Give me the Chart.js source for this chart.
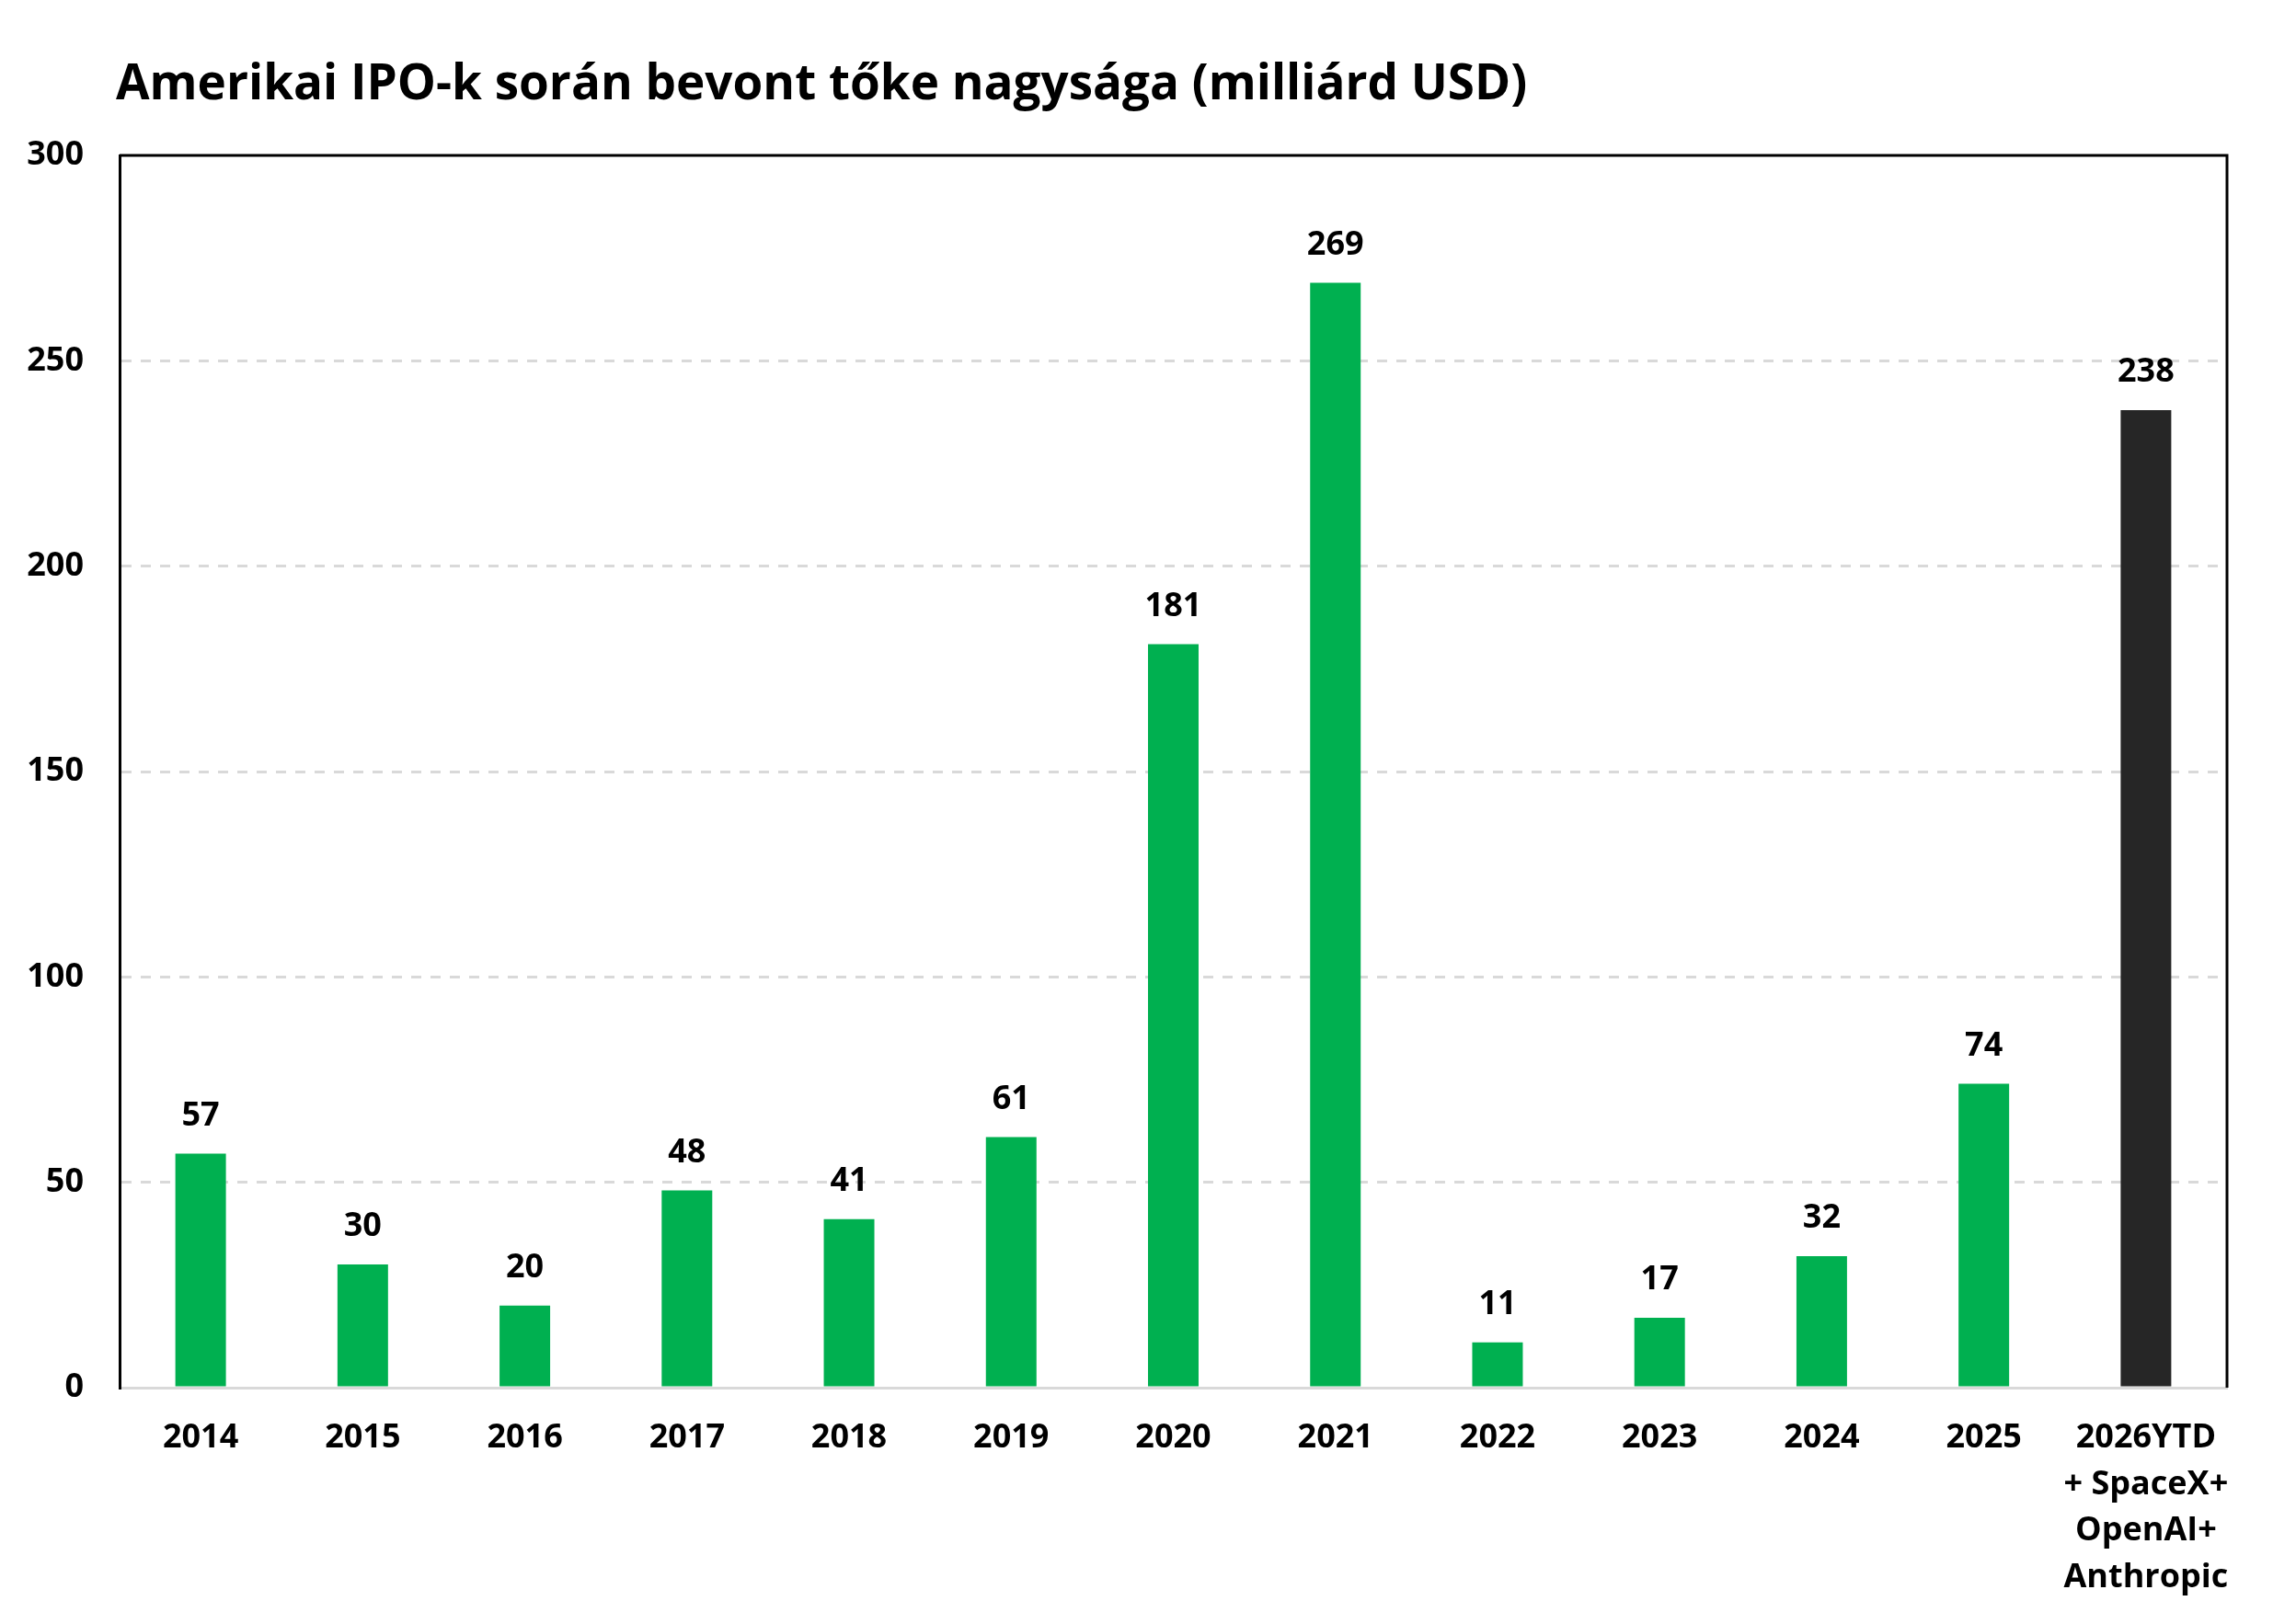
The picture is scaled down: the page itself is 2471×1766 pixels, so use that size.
<!DOCTYPE html>
<html>
<head>
<meta charset="utf-8">
<script src="https://cdn.jsdelivr.net/npm/chart.js@4"></script>
<style>
  html, body { margin: 0; padding: 0; background: #fff; }
  #wrap { width: 2471px; height: 1766px; }
</style>
</head>
<body>
<div id="wrap"><canvas id="grafico" width="2471" height="1766"></canvas></div>
<script>
// datos
const titulo = "Amerikai IPO-k során bevont tőke nagysága (milliárd USD)";
const categorias = ["2014", "2015", "2016", "2017", "2018", "2019", "2020", "2021", "2022", "2023", "2024", "2025",
    ["2026YTD", "+ SpaceX+", "OpenAI+", "Anthropic"]];
const valores = [57, 30, 20, 48, 41, 61, 181, 269, 11, 17, 32, 74, 238];
const ejeYTicks = [0, 50, 100, 150, 200, 250, 300];

const VERDE = "#00B050";
const OSCURO = "#262626";
const FUENTE = "'Open Sans', 'Noto Sans', sans-serif";

let colores = valores.map((v, i) => i === valores.length - 1 ? OSCURO : VERDE);

// plugin: titulo, marco y etiquetas de valores
const extras = {
    id: "extras",
    afterDatasetsDraw(chart) {
        const ctx = chart.ctx;
        const area = chart.chartArea;
        const meta = chart.getDatasetMeta(0);

        ctx.save();
        ctx.fillStyle = "#000";
        ctx.font = "bold 36px " + FUENTE;
        ctx.textAlign = "center";
        ctx.textBaseline = "middle";
        meta.data.forEach((bar, i) => {
            ctx.fillText(String(valores[i]), bar.x, bar.y - 41);
        });

        // marco negro arriba y derecha
        ctx.strokeStyle = "#000";
        ctx.lineWidth = 3;
        ctx.beginPath();
        ctx.moveTo(area.left, area.top);
        ctx.lineTo(area.right, area.top);
        ctx.lineTo(area.right, area.bottom);
        ctx.stroke();

        // titulo
        ctx.font = "bold 53px " + FUENTE;
        ctx.textAlign = "left";
        ctx.textBaseline = "alphabetic";
        ctx.fillText(titulo, 126, 108);
        ctx.restore();
    }
};

new Chart(document.getElementById("grafico"), {
    type: "bar",
    data: {
        labels: categorias,
        datasets: [{
            data: valores,
            backgroundColor: colores,
            borderWidth: 0,
            categoryPercentage: 1,
            barPercentage: 0.312
        }]
    },
    options: {
        responsive: false,
        animation: false,
        layout: {
            padding: { top: 169, right: 50, bottom: 0, left: 0 }
        },
        plugins: {
            legend: { display: false },
            tooltip: { enabled: false }
        },
        scales: {
            x: {
                grid: { display: false, drawTicks: false },
                border: { display: true, color: "#d9d9d9", width: 3 },
                ticks: {
                    color: "#000",
                    padding: 30,
                    maxRotation: 0,
                    autoSkip: false,
                    font: { family: FUENTE, size: 36, weight: "bold", lineHeight: 1.4 }
                },
                afterFit: s => { s.height = 257; }
            },
            y: {
                min: 0,
                max: 300,
                afterBuildTicks: s => { s.ticks = ejeYTicks.map(v => ({ value: v })); },
                grid: {
                    drawTicks: false,
                    lineWidth: 3,
                    color: c => (c.tick.value === 0 || c.tick.value === 300) ? "rgba(0,0,0,0)" : "#d9d9d9"
                },
                // en v4 el dash de la grilla va en border.dash
                border: { display: true, color: "#000", width: 3, dash: [11, 10] },
                ticks: {
                    color: "#000",
                    padding: 39,
                    font: { family: FUENTE, size: 36, weight: "bold" }
                },
                afterFit: s => { s.width = 130; }
            }
        }
    },
    plugins: [extras]
});
</script>
</body>
</html>
